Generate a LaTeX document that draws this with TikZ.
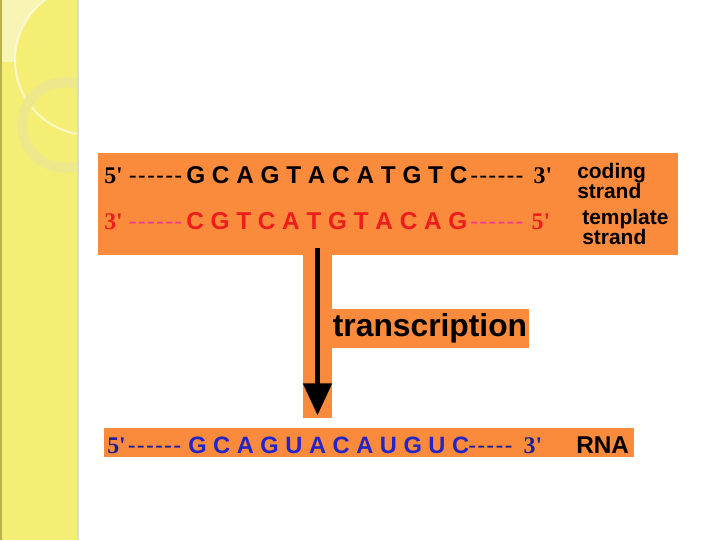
\documentclass[tikz,border=0pt]{standalone}
\usepackage{fontspec}
\setmainfont{Liberation Sans}
\newfontfamily\seqfont{Liberation Sans}
\newfontfamily\primefont{Liberation Serif}
\usetikzlibrary{arrows.meta}
\definecolor{bandOrg}{HTML}{FA8A3C}
\definecolor{tmplRed}{HTML}{EE1C1C}
\definecolor{tmplPink}{HTML}{F03C8C}
\definecolor{rnaBlue}{HTML}{2424C8}
\definecolor{rnaNavy}{HTML}{1E1E96}
\definecolor{stripYel}{HTML}{F4EF74}
\definecolor{stripPale}{HTML}{F7F4B4}
\definecolor{stripEdge}{HTML}{B8B24A}
\definecolor{ringYel}{HTML}{EEE88C}

\newcommand{\prm}[1]{{\primefont\bfseries\fontsize{17}{20}\selectfont #1\textquotesingle}}
\newcommand{\hy}{-\kern0.8pt}
\newcommand{\dsh}[1]{{\seqfont\mdseries\fontsize{17}{20}\selectfont #1}}

\begin{document}
\begin{tikzpicture}[
  x=0.025cm, y=-0.025cm,
  band/.style={fill=bandOrg, inner sep=0pt},
  seq/.style={font=\seqfont\fontsize{17.3}{20}\selectfont\bfseries,
    inner sep=0pt, anchor=base west},
  endlbl/.style={font=\fontsize{17}{20}\selectfont, inner sep=0pt,
    anchor=base west},
  lbl/.style={font=\fontsize{14.9}{14.2}\selectfont\bfseries, align=left,
    inner sep=0pt, anchor=north west},
  ar/.style={-{Triangle[length=0.8cm, width=0.7cm]}, line width=3.5pt,
    shorten >=0.075cm},
]
\useasboundingbox (0,0) rectangle (720,540);

% ---------------- side strip ----------------
\fill[stripYel] (0,0) rectangle (78,540);
\begin{scope}
  \clip (0,0) rectangle (78,540);
  \fill[stripPale] (0,0) rectangle (78,62);
  \fill[stripYel] (90,60) circle (1.875cm);
  \draw[white, opacity=0.55, line width=1.5pt] (90,60) circle (1.875cm);
  \draw[ringYel, line width=0.25cm] (65,125) circle (1.07cm);
\end{scope}
\fill[stripEdge] (0,0) rectangle (2,540);
\fill[black!15] (77,0) rectangle (79,540);

% ---------------- bands ----------------
\node[band, minimum width=14.5cm, minimum height=2.55cm] (dna) at (388,204) {};
\node[band, minimum width=0.725cm, minimum height=4.25cm] (stem) at (317.5,333) {};
\node[band, minimum width=4.95cm, minimum height=0.975cm,
  font=\fontsize{22.6}{26}\selectfont\bfseries] (trans) at (430,328.5) {transcription};
\node[band, minimum width=13.25cm, minimum height=0.725cm] (rnaband) at (369,442.5) {};

% ---------------- coding strand ----------------
\node[endlbl, text width=1.95cm] (cod5) at (104,183)
  {\prm{5}\hspace{\fill}\dsh{\hy\hy\hy\hy\hy-}};
\node[seq] (coding) at (186,183) {G C A G T A C A T G T C};
\node[endlbl, text width=2.05cm] (cod3) at (470,183)
  {\dsh{\hy\hy\hy\hy\hy-}\hspace{\fill}\prm{3}};

% ---------------- template strand ----------------
\node[endlbl, text width=1.95cm, tmplRed] (tmp3) at (104,229)
  {\prm{3}\hspace{\fill}\dsh{\color{tmplPink}\hy\hy\hy\hy\hy-}};
\node[seq, tmplRed] (template) at (186,229) {C G T C A T G T A C A G};
\node[endlbl, text width=2.0cm, tmplRed] (tmp5) at (470,229)
  {\dsh{\color{tmplPink}\hy\hy\hy\hy\hy-}\hspace{\fill}\prm{5}};

% ---------------- RNA ----------------
\node[endlbl, text width=1.85cm, rnaNavy] (rna5) at (107,453)
  {\prm{5}\hspace{\fill}\dsh{\hy\hy\hy\hy\hy-}};
\node[seq, rnaBlue, font=\seqfont\fontsize{16.8}{20}\selectfont\bfseries]
  (rna) at (188,453) {G C A G U A C A U G U C};
\node[endlbl, text width=1.85cm, rnaNavy] (rna3) at (468,453)
  {\dsh{\hy\hy\hy\hy-}\hspace{\fill}\prm{3}};

% ---------------- labels ----------------
\node[lbl] (codlbl) at (577,163) {coding\\strand};
\node[lbl] (tmplbl) at (582,209) {template\\strand};
\node[seq] (rnalbl) at (576,453) {RNA};

% ---------------- arrow ----------------
\draw[ar] (stem.north) -- (stem.south);

\end{tikzpicture}
\end{document}
